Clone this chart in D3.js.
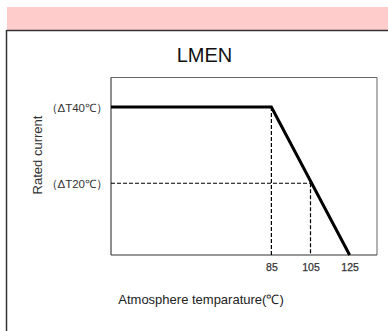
<!DOCTYPE html>
<html>
<head>
<meta charset="utf-8">
<script src="https://cdn.jsdelivr.net/npm/d3@7"></script>
<style>
  body { margin: 0; background: #fff; }
  svg { display: block; font-family: "Liberation Sans", Arial, sans-serif; }
</style>
</head>
<body>
<svg id="chart" width="388" height="331"></svg>
<script>
// derating curve: temperature vs relative rated current
const temps = [3, 85, 125];
const currents = [1.0, 1.0, 0];
const tickTemps = [85, 105, 125];
const levelValues = [1.0, 0.485];
const levelLabels = ["（ΔT40℃）", "（ΔT20℃）"];
const guideTemps = [85, 105];
const guideTops = [1.0, 0.485];

const svg = d3.select("#chart");
const box = {left: 111, top: 77.5, right: 377, bottom: 255};

const x = d3.scaleLinear().domain([3, 139]).range([box.left, box.right]);
const y = d3.scaleLinear().domain([0, 1.2]).range([box.bottom, box.top]);

// page frame
svg.append("rect").attr("x", 7).attr("y", 7).attr("width", 381).attr("height", 23).attr("fill", "#ffcccc");
svg.append("line").attr("x1", 6.5).attr("x2", 388).attr("y1", 30.5).attr("y2", 30.5).attr("stroke", "#333").attr("stroke-width", 1.5);
svg.append("line").attr("x1", 6.5).attr("x2", 6.5).attr("y1", 30).attr("y2", 331).attr("stroke", "#333").attr("stroke-width", 1.5);

svg.append("text").attr("x", 204.5).attr("y", 62).attr("text-anchor", "middle")
    .attr("font-size", 20).attr("fill", "#111").text("LMEN");

// plot box
svg.append("line").attr("x1", box.right).attr("x2", box.right).attr("y1", box.top).attr("y2", box.bottom)
    .attr("stroke", "#999").attr("stroke-width", 1.5);
svg.append("line").attr("x1", box.left).attr("x2", box.right).attr("y1", box.top).attr("y2", box.top)
    .attr("stroke", "#666").attr("stroke-width", 1);
svg.append("line").attr("x1", box.left).attr("x2", box.left).attr("y1", box.top).attr("y2", box.bottom)
    .attr("stroke", "#444").attr("stroke-width", 1.2);
svg.append("line").attr("x1", box.left).attr("x2", box.right).attr("y1", box.bottom).attr("y2", box.bottom)
    .attr("stroke", "#333").attr("stroke-width", 1.2);

// dashed guides
const dash = "4,2";
svg.append("line").attr("x1", box.left).attr("x2", x(105)).attr("y1", y(levelValues[1])).attr("y2", y(levelValues[1]))
    .attr("stroke", "#000").attr("stroke-width", 1.2).attr("stroke-dasharray", dash);
svg.selectAll(".vguide").data(guideTemps).join("line")
    .attr("class", "vguide")
    .attr("x1", d => x(d)).attr("x2", d => x(d))
    .attr("y1", (d, i) => y(guideTops[i])).attr("y2", box.bottom)
    .attr("stroke", "#000").attr("stroke-width", 1.2).attr("stroke-dasharray", dash);

// curve
const line = d3.line().x((d, i) => x(temps[i])).y(d => y(d));
svg.append("path").attr("d", line(currents)).attr("fill", "none")
    .attr("stroke", "#000").attr("stroke-width", 3);

// axes
const xAxis = svg.append("g").attr("transform", `translate(0,${box.bottom + 6})`)
    .call(d3.axisBottom(x).tickValues(tickTemps).tickSize(0));
xAxis.select(".domain").remove();
xAxis.selectAll("text").attr("font-size", 10.5).attr("fill", "#333")
    .attr("stroke", "#333").attr("stroke-width", 0.25)
    .attr("font-family", "'Liberation Sans', Arial, sans-serif");

svg.selectAll(".lvl").data(levelValues).join("text")
    .attr("class", "lvl")
    .attr("x", box.left - 3).attr("y", d => y(d) + 1).attr("dy", "0.35em")
    .attr("text-anchor", "end").attr("font-size", 11.5).attr("fill", "#333")
    .text((d, i) => levelLabels[i]);

svg.append("text").attr("transform", "translate(42,155) rotate(-90)")
    .attr("text-anchor", "middle").attr("font-size", 13).attr("fill", "#333").text("Rated current");

svg.append("text").attr("x", 201).attr("y", 304).attr("text-anchor", "middle")
    .attr("font-size", 13).attr("fill", "#222").text("Atmosphere temparature(℃)");
</script>
</body>
</html>
